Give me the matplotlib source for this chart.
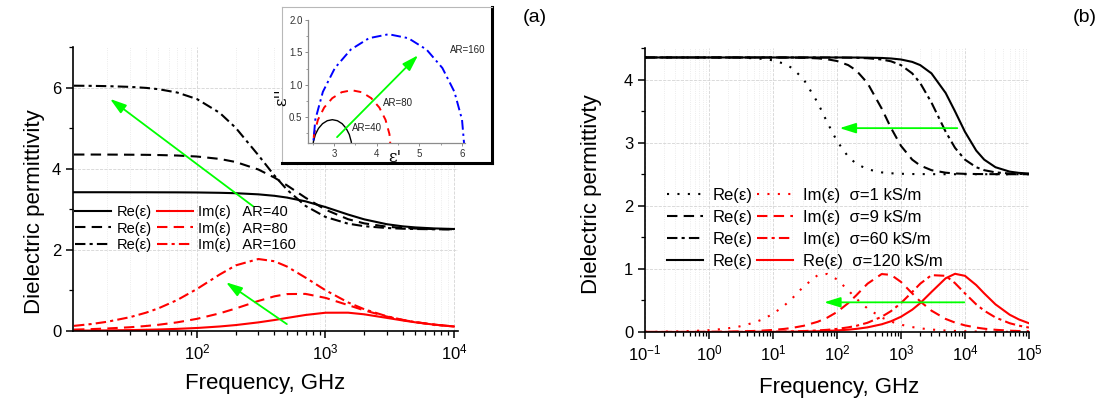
#!/usr/bin/env python3
# -*- coding: utf-8 -*-
import matplotlib
matplotlib.use('Agg')
import matplotlib.pyplot as plt
from matplotlib.ticker import LogLocator, MultipleLocator, NullFormatter

# (a) permittivity vs frequency for three aspect ratios
freq_a = [11, 15, 20, 30, 40, 50, 70, 100, 150, 200, 300, 400, 500, 700,
	1000, 1500, 2000, 3000, 4000, 5000, 7000, 10000]
re_ar40 = [3.42, 3.42, 3.42, 3.419, 3.419, 3.418, 3.417, 3.414, 3.406, 3.396, 3.368,
	3.332, 3.289, 3.195, 3.054, 2.870, 2.752, 2.632, 2.579, 2.553, 2.528, 2.514]
im_ar40 = [0.008, 0.011, 0.015, 0.022, 0.030, 0.037, 0.052, 0.074, 0.111, 0.146, 0.212,
	0.270, 0.321, 0.395, 0.450, 0.451, 0.411, 0.323, 0.259, 0.214, 0.157, 0.111]
re_ar80 = [4.349, 4.349, 4.348, 4.345, 4.342, 4.337, 4.325, 4.300, 4.241, 4.165, 3.980,
	3.781, 3.592, 3.283, 2.990, 2.755, 2.653, 2.571, 2.541, 2.526, 2.513, 2.507]
im_ar80 = [0.034, 0.046, 0.062, 0.092, 0.123, 0.153, 0.213, 0.300, 0.435, 0.555, 0.740,
	0.854, 0.910, 0.914, 0.816, 0.638, 0.509, 0.356, 0.271, 0.219, 0.157, 0.111]
re_ar160 = [6.046, 6.042, 6.035, 6.017, 5.992, 5.960, 5.878, 5.715, 5.377, 5.007, 4.333,
	3.832, 3.486, 3.082, 2.811, 2.645, 2.583, 2.538, 2.521, 2.514, 2.507, 2.503]
im_ar160 = [0.126, 0.171, 0.228, 0.340, 0.451, 0.558, 0.763, 1.037, 1.392, 1.617, 1.774,
	1.719, 1.590, 1.314, 1.004, 0.704, 0.537, 0.363, 0.274, 0.219, 0.157, 0.110]
ar_labels = ['AR=40', 'AR=80', 'AR=160']

# inset: Cole-Cole arcs
cc_re_ar40 = [3.42, 3.404, 3.358, 3.285, 3.19, 3.079, 2.96, 2.841, 2.73, 2.635, 2.562, 2.516, 2.5]
cc_im_ar40 = [0, 0.119, 0.23, 0.325, 0.398, 0.444, 0.46, 0.444, 0.398, 0.325, 0.23, 0.119, 0]
cc_re_ar80 = [4.33, 4.299, 4.207, 4.062, 3.873, 3.652, 3.415, 3.178, 2.958, 2.768, 2.623, 2.531, 2.5]
cc_im_ar80 = [0, 0.237, 0.458, 0.647, 0.792, 0.884, 0.915, 0.884, 0.792, 0.647, 0.458, 0.237, 0]
cc_re_ar160 = [6.06, 6.0, 5.822, 5.539, 5.17, 4.741, 4.28, 3.819, 3.39, 3.021, 2.738, 2.561, 2.5]
cc_im_ar160 = [0, 0.461, 0.89, 1.259, 1.542, 1.719, 1.78, 1.719, 1.542, 1.259, 0.89, 0.461, 0]

# (b) permittivity vs frequency for four conductivities
freq_b = [0.1, 0.15, 0.2, 0.3, 0.5, 0.7, 1, 1.5, 2, 3, 5, 7, 10, 15, 20, 30, 50, 70,
	100, 150, 200, 300, 500, 700, 1000, 1500, 2000, 3000, 5000, 7000,
	1e4, 1.5e4, 2e4, 3e4, 5e4, 7e4, 1e5]
re_s1 = [4.35, 4.35, 4.35, 4.35, 4.35, 4.35, 4.35, 4.349, 4.348, 4.346, 4.338, 4.327,
	4.304, 4.251, 4.181, 4.008, 3.635, 3.328, 3.026, 2.777, 2.667, 2.578, 2.529, 2.515,
	2.507, 2.503, 2.502, 2.501, 2.5, 2.5, 2.5, 2.5, 2.5, 2.5, 2.5, 2.5, 2.5]
im_s1 = [0.003, 0.004, 0.006, 0.009, 0.015, 0.021, 0.029, 0.044, 0.059, 0.088, 0.146, 0.203,
	0.287, 0.417, 0.533, 0.718, 0.901, 0.920, 0.834, 0.661, 0.530, 0.372, 0.229, 0.165,
	0.116, 0.078, 0.058, 0.039, 0.023, 0.017, 0.012, 0.008, 0.006, 0.004, 0.002, 0.002, 0.001]
re_s9 = [4.35, 4.35, 4.35, 4.35, 4.35, 4.35, 4.35, 4.35, 4.35, 4.35, 4.35, 4.35,
	4.349, 4.349, 4.348, 4.345, 4.336, 4.322, 4.294, 4.229, 4.145, 3.945, 3.541, 3.233,
	2.950, 2.731, 2.638, 2.564, 2.524, 2.512, 2.506, 2.503, 2.502, 2.501, 2.5, 2.5, 2.5]
im_s9 = [0.0003, 0.0005, 0.0007, 0.001, 0.0016, 0.0023, 0.0033, 0.0049, 0.0065, 0.0098,
	0.0163, 0.0228, 0.0326, 0.0489, 0.0652, 0.0976, 0.1619, 0.225, 0.316, 0.457, 0.580,
	0.765, 0.918, 0.905, 0.794, 0.612, 0.485, 0.338, 0.207, 0.149, 0.105, 0.070, 0.052,
	0.035, 0.021, 0.015, 0.0105]
re_s60 = [4.35, 4.35, 4.35, 4.35, 4.35, 4.35, 4.35, 4.35, 4.35, 4.35, 4.35, 4.35,
	4.35, 4.35, 4.35, 4.35, 4.35, 4.349, 4.349, 4.347, 4.345, 4.338, 4.318, 4.289,
	4.229, 4.098, 3.945, 3.635, 3.173, 2.918, 2.731, 2.611, 2.564, 2.529, 2.511, 2.505, 2.503]
im_s60 = [0.00005, 0.00007, 0.0001, 0.00015, 0.00024, 0.00034, 0.0005, 0.0007, 0.001,
	0.0015, 0.0024, 0.0034, 0.0049, 0.0073, 0.0098, 0.0147, 0.0245, 0.0343, 0.0489,
	0.0733, 0.0976, 0.146, 0.241, 0.331, 0.457, 0.634, 0.765, 0.901, 0.890, 0.774,
	0.612, 0.438, 0.338, 0.230, 0.139, 0.100, 0.070]
re_s120 = [4.35, 4.35, 4.35, 4.35, 4.35, 4.35, 4.35, 4.35, 4.35, 4.35, 4.35, 4.35,
	4.35, 4.35, 4.35, 4.35, 4.35, 4.35, 4.35, 4.349, 4.349, 4.347, 4.342, 4.334,
	4.318, 4.280, 4.229, 4.098, 3.787, 3.496, 3.173, 2.875, 2.731, 2.611, 2.541, 2.521, 2.511]
im_s120 = [0.00002, 0.00004, 0.00005, 0.00007, 0.00012, 0.00017, 0.00024, 0.00037,
	0.0005, 0.0007, 0.0012, 0.0017, 0.0024, 0.0037, 0.0049, 0.0073, 0.0122, 0.0171,
	0.0245, 0.0367, 0.0489, 0.0733, 0.122, 0.170, 0.241, 0.353, 0.457, 0.634, 0.851,
	0.922, 0.890, 0.744, 0.612, 0.438, 0.274, 0.198, 0.139]
sigma_labels = ['Im(ε)  σ=1 kS/m', 'Im(ε)  σ=9 kS/m', 'Im(ε)  σ=60 kS/m', 'Re(ε)  σ=120 kS/m']

plt.rcParams['font.family'] = ['Liberation Sans', 'DejaVu Sans']
plt.rcParams['mathtext.fontset'] = 'custom'
plt.rcParams['mathtext.rm'] = 'Liberation Sans'
plt.rcParams['mathtext.it'] = 'Liberation Sans:italic'

GREEN = '#00ff00'
LW = 1.5
ls_dash = (0, (5, 3))
ls_dashdot = (0, (5, 2, 1.5, 2))
ls_dot = (0, (1, 4))


def style_axes(ax):
	ax.spines['top'].set_visible(False)
	ax.spines['right'].set_visible(False)
	for s in ['left', 'bottom']:
		ax.spines[s].set_linewidth(1.2)
	ax.tick_params(which='major', direction='out', length=5, width=1.1, labelsize=12)
	ax.tick_params(which='minor', direction='out', length=3, width=0.9)
	ax.xaxis.set_major_locator(LogLocator(base=10, subs=(1.0,), numticks=20))
	ax.xaxis.set_minor_locator(LogLocator(base=10, subs=[2, 3, 4, 5, 6, 7, 8, 9], numticks=20))
	ax.xaxis.set_minor_formatter(NullFormatter())
	ax.set_axisbelow(True)
	ax.grid(True, which='major', color='#d4d4d4', ls='--', lw=0.6)
	ax.grid(True, which='minor', axis='x', color='#e6e6e6', ls=':', lw=0.6)


def green_arrow(ax, tail, head):
	ax.annotate('', xy=head, xytext=tail,
		arrowprops=dict(arrowstyle='-|>,head_length=0.7,head_width=0.22',
			color=GREEN, lw=1.3, mutation_scale=14, shrinkA=0, shrinkB=0))


fig = plt.figure(figsize=(11.04, 4.03), dpi=100)

# ---------- panel (a)
ax1 = fig.add_axes([0.0661, 0.1787, 0.3487, 0.7047])
style_axes(ax1)
ax1.set_xscale('log')
ax1.set_xlim(10.8, 10750)
ax1.set_ylim(0, 7)
ax1.yaxis.set_major_locator(MultipleLocator(2))
ax1.yaxis.set_minor_locator(MultipleLocator(1))

re_h, im_h = [], []
for re, im, ls in [(re_ar40, im_ar40, '-'), (re_ar80, im_ar80, ls_dash), (re_ar160, im_ar160, ls_dashdot)]:
	l1, = ax1.plot(freq_a, re, color='black', ls=ls, lw=LW)
	l2, = ax1.plot(freq_a, im, color='red', ls=ls, lw=LW)
	re_h.append(l1)
	im_h.append(l2)

green_arrow(ax1, (274, 3.07), (21, 5.72))
green_arrow(ax1, (500, 0.17), (168, 1.2))

leg1 = ax1.legend(re_h + im_h, ['Re(ε)'] * 3 + ['Im(ε)   ' + a for a in ar_labels],
	ncol=2, loc='upper left', bbox_to_anchor=(0.005, 0.445), frameon=False,
	fontsize=10.5, handlelength=2.5, handletextpad=0.35, columnspacing=0.35,
	labelspacing=0.2, borderpad=0, borderaxespad=0)

ax1.set_xlabel('Frequency, GHz', fontsize=16)
ax1.set_ylabel('Dielectric permittivity', fontsize=16)
ax1.xaxis.set_label_coords(0.499, -0.148)
ax1.yaxis.set_label_coords(-0.073, 0.42)

# inset frame and inset axes
frame = fig.add_axes([0.2554, 0.5955, 0.1902, 0.3871])
frame.set_xticks([])
frame.set_yticks([])
frame.set_facecolor('white')
for s in ['top', 'left']:
	frame.spines[s].set_color('#b8b8b8')
	frame.spines[s].set_linewidth(0.8)
for s in ['right', 'bottom']:
	frame.spines[s].set_color('black')
	frame.spines[s].set_linewidth(2.2)

axin = fig.add_axes([0.2790, 0.6452, 0.1422, 0.3052])
axin.patch.set_alpha(0)
axin.spines['top'].set_visible(False)
axin.spines['right'].set_visible(False)
for s in ['left', 'bottom']:
	axin.spines[s].set_color('#8c8c8c')
	axin.spines[s].set_linewidth(0.9)
axin.set_xlim(2.39, 6.07)
axin.set_ylim(0.1, 2.0)
axin.set_xticks([3, 4, 5, 6])
axin.set_yticks([0.5, 1.0, 1.5, 2.0])
axin.set_yticklabels(['0.5', '1.0', '1.5', '2.0'])
axin.xaxis.set_minor_locator(MultipleLocator(0.5))
axin.yaxis.set_minor_locator(MultipleLocator(0.25))
axin.tick_params(which='major', direction='out', length=2.5, width=0.7, colors='#8c8c8c',
	labelcolor='#333333', labelsize=7, pad=1.5)
axin.tick_params(which='minor', direction='out', length=1.5, width=0.6, colors='#8c8c8c')

axin.plot(cc_re_ar40, cc_im_ar40, color='black', lw=1.0)
axin.plot(cc_re_ar80, cc_im_ar80, color='red', lw=1.4, ls=(0, (4, 3)))
axin.plot(cc_re_ar160, cc_im_ar160, color='#0000ff', lw=1.4, ls=(0, (5, 2, 1.2, 2)))
green_arrow(axin, (3.07, 0.19), (4.97, 1.455))
axin.text(5.72, 1.53, ar_labels[2], fontsize=7, color='#222222', va='center')
axin.text(4.15, 0.72, ar_labels[1], fontsize=7, color='#222222', va='center')
axin.text(3.42, 0.33, ar_labels[0], fontsize=7, color='#222222', va='center')
axin.set_xlabel("ε'", fontsize=12, family=['DejaVu Serif'])
axin.set_ylabel("ε''", fontsize=12, family=['DejaVu Serif'])
axin.xaxis.set_label_coords(0.554, -0.05)
axin.yaxis.set_label_coords(-0.115, 0.374)

# ---------- panel (b)
ax2 = fig.add_axes([0.5842, 0.1762, 0.3478, 0.7047])
style_axes(ax2)
ax2.set_xscale('log')
ax2.set_xlim(0.1, 1e5)
ax2.set_ylim(0, 4.5)
ax2.yaxis.set_major_locator(MultipleLocator(1))
ax2.yaxis.set_minor_locator(MultipleLocator(0.5))

re_h, im_h = [], []
for re, im, ls in [(re_s1, im_s1, ls_dot), (re_s9, im_s9, ls_dash),
		(re_s60, im_s60, ls_dashdot), (re_s120, im_s120, '-')]:
	l1, = ax2.plot(freq_b, re, color='black', ls=ls, lw=LW)
	l2, = ax2.plot(freq_b, im, color='red', ls=ls, lw=LW)
	re_h.append(l1)
	im_h.append(l2)

green_arrow(ax2, (7600, 3.23), (110, 3.23))
green_arrow(ax2, (9800, 0.47), (63, 0.47))

ax2.legend(re_h + im_h, ['Re(ε)'] * 4 + sigma_labels,
	ncol=2, loc='upper left', bbox_to_anchor=(0.057, 0.507), frameon=False,
	fontsize=12, handlelength=2.15, handletextpad=0.6, columnspacing=0.25,
	labelspacing=0.42, borderpad=0, borderaxespad=0)

ax2.set_xlabel('Frequency, GHz', fontsize=16)
ax2.set_ylabel('Dielectric permittivty', fontsize=16)
ax2.xaxis.set_label_coords(0.506, -0.158)
ax2.yaxis.set_label_coords(-0.112, 0.486)

fig.text(535 / 1104, 1 - 18 / 403, '(a)', fontsize=14, ha='center', va='center')
fig.text(1085 / 1104, 1 - 18 / 403, '(b)', fontsize=14, ha='center', va='center')

fig.savefig('out.png', dpi=100)
